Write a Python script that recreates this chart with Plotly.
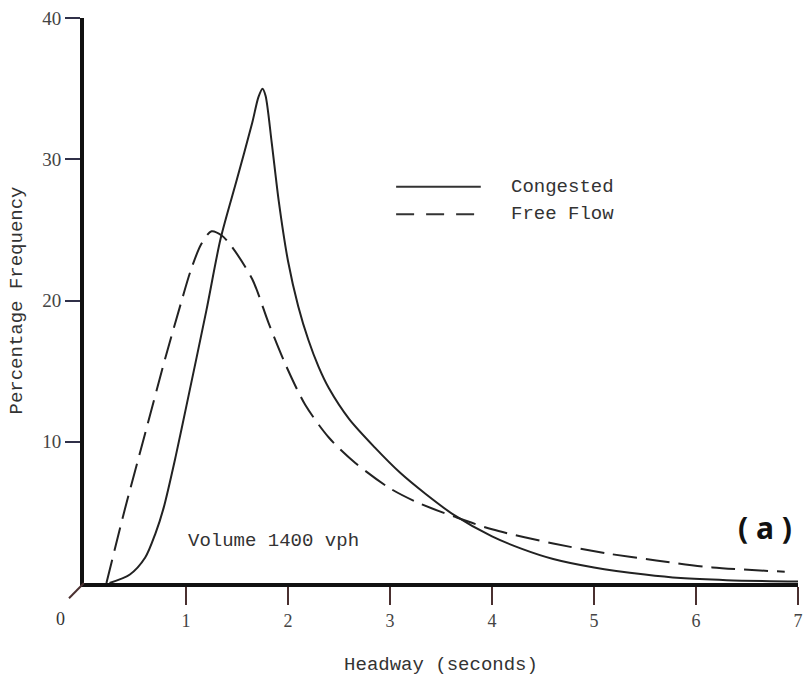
import plotly.graph_objects as go

# Congested (solid)
cong_x = [0.25, 0.45, 0.60, 0.70, 0.78, 0.90, 1.00, 1.20, 1.34, 1.50, 1.65, 1.71, 1.75, 1.78, 1.84, 1.91, 2.00, 2.10,
          2.20, 2.30, 2.40, 2.60, 2.85, 3.10, 3.35, 3.63, 4.00, 4.30, 4.60, 5.00, 5.50, 5.85, 6.30, 7.00]
cong_y = [0.0, 0.6, 1.8, 3.5, 5.3, 9.0, 12.4, 19.3, 24.4, 28.6, 32.6, 34.4, 35.0, 34.5, 31.2, 27.0, 22.8, 19.6,
          17.2, 15.3, 13.8, 11.6, 9.6, 7.8, 6.3, 4.8, 3.3, 2.4, 1.7, 1.1, 0.6, 0.35, 0.2, 0.1]

# Free flow (dashed)
free_x = [0.22, 0.40, 0.60, 0.80, 0.95, 1.05, 1.15, 1.25, 1.35, 1.45, 1.65, 1.81, 1.98, 2.17, 2.40, 2.66, 3.00,
          3.30, 3.63, 4.00, 4.60, 5.12, 5.61, 6.16, 6.87]
free_y = [0.0, 5.2, 10.6, 16.0, 19.8, 22.2, 24.0, 24.9, 24.6, 23.8, 21.5, 18.4, 15.4, 12.6, 10.3, 8.5, 6.7,
          5.6, 4.7, 3.8, 2.8, 2.1, 1.6, 1.1, 0.8]

x_ticks = [1, 2, 3, 4, 5, 6, 7]
y_ticks = [10, 20, 30, 40]

MONO = "Liberation Mono, Courier New, monospace"
SERIF = "Liberation Serif, serif"

fig = go.Figure()
fig.add_trace(go.Scatter(x=cong_x, y=cong_y, mode="lines", name="Congested",
                         line=dict(color="#222", width=2, shape="spline", smoothing=0.8)))
fig.add_trace(go.Scatter(x=free_x, y=free_y, mode="lines", name="Free Flow",
                         line=dict(color="#222", width=2, dash="24px,9px", shape="spline", smoothing=0.8)))

# legend drawn manually
fig.add_shape(type="line", x0=3.06, x1=3.89, y0=28.05, y1=28.05, line=dict(color="#333", width=2))
fig.add_shape(type="line", x0=3.06, x1=3.89, y0=26.1, y1=26.1, line=dict(color="#333", width=2, dash="18px,12px"))
fig.add_annotation(x=4.17, y=28.05, text="Congested", showarrow=False, xanchor="left",
                   font=dict(family=MONO, size=19, color="#333"))
fig.add_annotation(x=4.17, y=26.1, text="Free Flow", showarrow=False, xanchor="left",
                   font=dict(family=MONO, size=19, color="#333"))
fig.add_annotation(x=1.0, y=3.0, text="Volume 1400 vph", showarrow=False, xanchor="left",
                   font=dict(family=MONO, size=19, color="#333"))
fig.add_annotation(x=6.68, y=3.96, text="( a )", showarrow=False,
                   font=dict(family="Noto Sans", size=30, color="#111", weight="bold"))
# origin "0" with diagonal tick (paper-referenced so it is not clipped)
fig.add_shape(type="line", xref="paper", yref="paper", x0=-0.021, y0=-0.027, x1=0, y1=0,
              line=dict(color="#4a3030", width=2))
fig.add_annotation(x=0, y=0, text="0", showarrow=False, xshift=-24, yshift=-36,
                   font=dict(family=SERIF, size=18, color="#333"))

fig.update_layout(
    width=811, height=680, margin=dict(l=84, r=8, t=13, b=91),
    plot_bgcolor="white", paper_bgcolor="white", showlegend=False,
    xaxis=dict(range=[0, 7], tickmode="array", tickvals=x_ticks, ticktext=[str(v) for v in x_ticks],
               showline=True, linewidth=4, linecolor="#111", ticks="outside", ticklen=18, tickwidth=2,
               tickcolor="#4a3030", showgrid=False, zeroline=False,
               tickfont=dict(family=SERIF, size=18, color="#444"),
               title=dict(text="Headway (seconds)", font=dict(family=MONO, size=19, color="#333"), standoff=28)),
    yaxis=dict(range=[0, 40], tickmode="array", tickvals=y_ticks, ticktext=[str(v) for v in y_ticks],
               showline=True, linewidth=4, linecolor="#111", ticks="outside", ticklen=15, tickwidth=2,
               tickcolor="#303048", showgrid=False, zeroline=False,
               tickfont=dict(family=SERIF, size=19, color="#444"),
               title=dict(text="Percentage Frequency", font=dict(family=MONO, size=19, color="#333"), standoff=16)),
)
fig.write_html("out.html")
